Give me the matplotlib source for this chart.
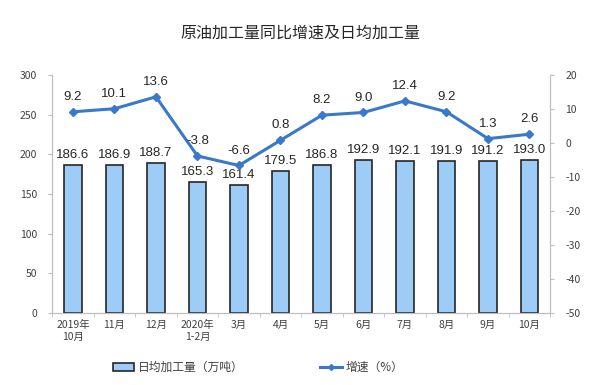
import matplotlib
matplotlib.use("Agg")
import matplotlib.pyplot as plt
from matplotlib.lines import Line2D
from matplotlib.patches import Patch

plt.rcParams['font.family'] = ['Noto Sans CJK SC', 'DejaVu Sans']
plt.rcParams['axes.unicode_minus'] = False

categories = ["2019年\n10月", "11月", "12月", "2020年\n1-2月", "3月", "4月", "5月",
              "6月", "7月", "8月", "9月", "10月"]
daily_output = [186.6, 186.9, 188.7, 165.3, 161.4, 179.5, 186.8, 192.9, 192.1, 191.9, 191.2, 193.0]
growth = [9.2, 10.1, 13.6, -3.8, -6.6, 0.8, 8.2, 9.0, 12.4, 9.2, 1.3, 2.6]
left_ticks = [0, 50, 100, 150, 200, 250, 300]
right_ticks = [-50, -40, -30, -20, -10, 0, 10, 20]

fig = plt.figure(figsize=(6, 3.85), dpi=100)
ax = fig.add_axes([0.087, 0.187, 0.83, 0.618])
ax2 = ax.twinx()

x = list(range(len(categories)))
ax.bar(x, daily_output, width=0.42, color="#9DCDF7", edgecolor="#262626", linewidth=1.2, zorder=2)
for xi, v in zip(x, daily_output):
    ax.text(xi, v + 5, f"{v:.1f}", ha="center", va="bottom", fontsize=9.5,
            family="Liberation Sans", color="#262626")

ax2.plot(x, growth, color="#3A78C9", linewidth=2.2, marker="D", markersize=4, zorder=3)
for xi, v in zip(x, growth):
    ax2.text(xi, v + 2.6, f"{v:.1f}", ha="center", va="bottom", fontsize=9.5,
             family="Liberation Sans", color="#262626")

ax.set_xlim(-0.5, len(categories) - 0.5)
ax.set_ylim(0, 300)
ax2.set_ylim(-50, 20)
ax.set_yticks(left_ticks)
ax2.set_yticks(right_ticks)
ax.set_xticks(x)
ax.set_xticklabels(categories, fontsize=7.5, color="#404040", linespacing=1.3)
ax.tick_params(axis="x", length=0, pad=5)
ax.set_xticks([i + 0.5 for i in range(-1, len(categories))], minor=True)
ax.tick_params(axis="x", which="minor", length=3, color="#bfbfbf", direction="out")
ax.tick_params(axis="y", labelsize=7.5, colors="#404040", length=3, color="#bfbfbf", pad=8)
ax2.tick_params(axis="y", labelsize=7.5, colors="#404040", length=3, color="#bfbfbf", pad=8)
for a in (ax, ax2):
    a.spines["top"].set_visible(False)
    for s in ("left", "right", "bottom"):
        a.spines[s].set_color("#bfbfbf")
        a.spines[s].set_linewidth(0.8)

fig.text(0.5, 0.915, "原油加工量同比增速及日均加工量", ha="center", va="center",
         fontsize=11.5, color="#262626")

handles = [Patch(facecolor="#9DCDF7", edgecolor="#262626", linewidth=1.2),
           Line2D([0], [0], color="#3A78C9", linewidth=2.2, marker="D", markersize=3)]
fig.legend(handles, ["日均加工量（万吨）", "增速（%）"], loc="center", bbox_to_anchor=(0.43, 0.045),
           ncol=2, frameon=False, fontsize=8.5, columnspacing=6.5, handlelength=1.8,
           handletextpad=0.3, labelcolor="#404040")

fig.savefig("out.png", dpi=100)
